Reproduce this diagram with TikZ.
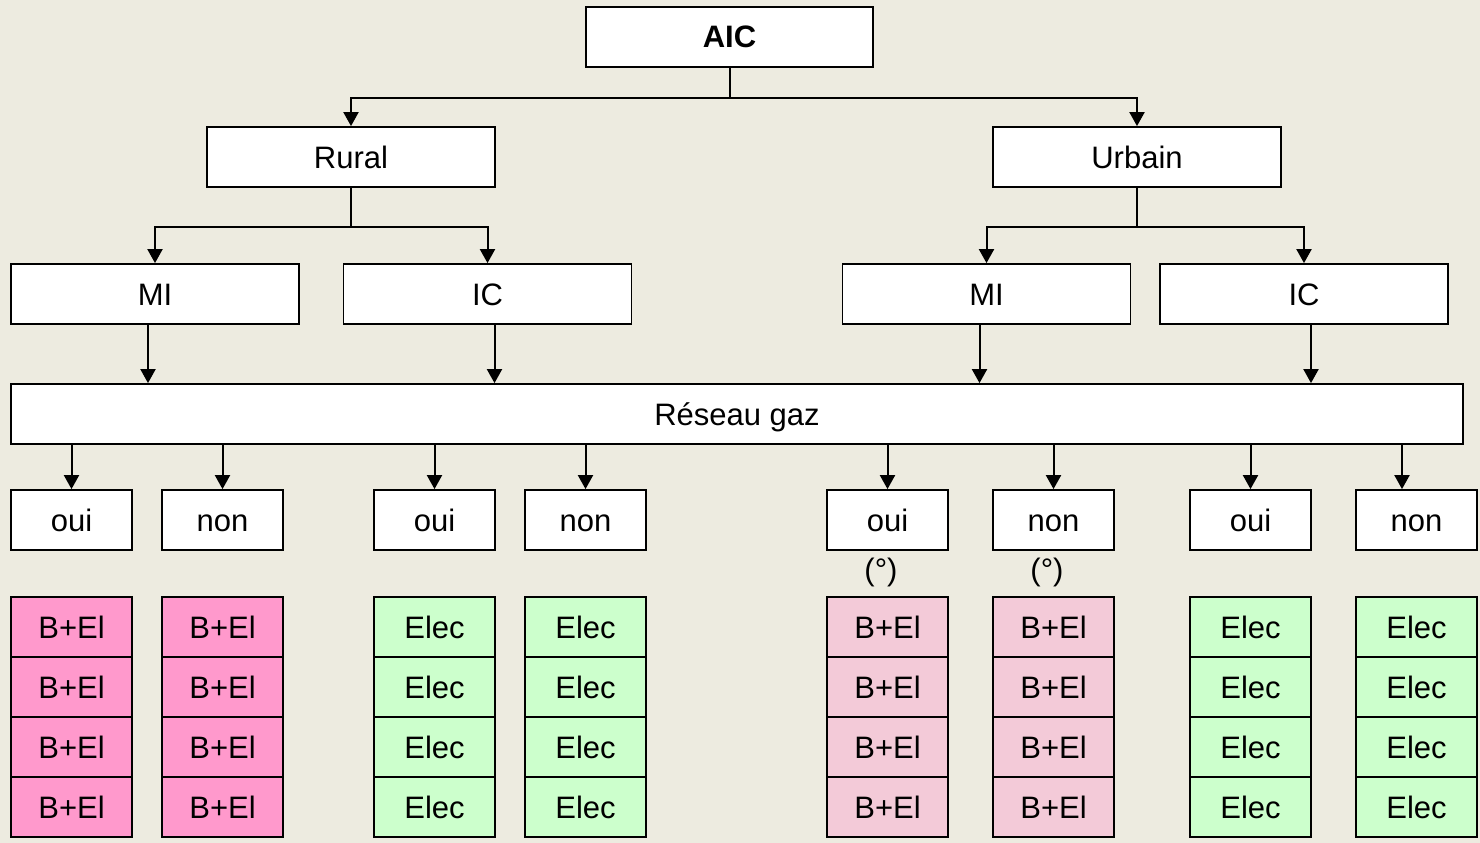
\documentclass[tikz,border=0pt]{standalone}
\usepackage{fontspec}
\setmainfont{Liberation Sans}
\usetikzlibrary{arrows.meta}
\definecolor{bgc}{RGB}{237,235,224}
\definecolor{pinkA}{RGB}{255,153,204}
\definecolor{pinkB}{RGB}{243,202,216}
\definecolor{greenA}{RGB}{204,255,204}
\tikzset{
  box/.style={draw=black, line width=1.8pt, fill=white, inner sep=0pt, minimum height=60pt, text height=22pt, text depth=0pt, font=\fontsize{31}{37}\selectfont},
  wbox/.style={box, minimum width=288pt},
  sbox/.style={box, minimum width=121pt},
  cellA/.style={sbox, fill=pinkA},
  cellB/.style={sbox, fill=pinkB},
  cellG/.style={sbox, fill=greenA},
  arr/.style={line width=2pt, -{Triangle[width=15pt,length=14pt]}},
  ln/.style={line width=2pt},
  lbl/.style={inner sep=0pt, text height=22pt, text depth=0pt, font=\fontsize{31}{37}\selectfont},
}
\begin{document}
\begin{tikzpicture}[x=1pt,y=-1pt]
\fill[bgc] (0,0) rectangle (1480,843);
\useasboundingbox (0,0) rectangle (1480,843);
% top
\node[wbox, minimum width=287pt, font=\fontsize{31}{37}\selectfont\bfseries] (aic) at (729.5,37) {AIC};
\node[wbox] (rural) at (351,157) {Rural};
\node[wbox] (urbain) at (1137,157) {Urbain};
\node[wbox] (rmi) at (155,294) {MI};
\node[wbox] (ric) at (487.5,294) {IC};
\node[wbox] (umi) at (986.5,294) {MI};
\node[wbox] (uic) at (1304,294) {IC};
\node[box, minimum width=1452pt] (reseau) at (737,414) {Réseau gaz};
% connectors top
\draw[ln] (aic.south) -- ++(0,30) coordinate (j1);
\draw[arr] (j1) -| (rural.north);
\draw[arr] (j1) -| (urbain.north);
\draw[ln] (rural.south) -- ++(0,39) coordinate (j2);
\draw[arr] (j2) -| (rmi.north);
\draw[arr] (j2) -| (ric.north);
\draw[ln] (urbain.south) -- ++(0,39) coordinate (j3);
\draw[arr] (j3) -| (umi.north);
\draw[arr] (j3) -| (uic.north);
\draw[arr] ([xshift=-7pt]rmi.south) -- ([xshift=-7pt]rmi.south |- reseau.north);
\draw[arr] ([xshift=7pt]ric.south) -- ([xshift=7pt]ric.south |- reseau.north);
\draw[arr] ([xshift=-7pt]umi.south) -- ([xshift=-7pt]umi.south |- reseau.north);
\draw[arr] ([xshift=7pt]uic.south) -- ([xshift=7pt]uic.south |- reseau.north);
% oui / non
\foreach \n/\x/\t/\dx in {a/71.5/oui/0, b/222.5/non/0, c/434.5/oui/0, d/585.5/non/0, e/887.5/oui/0, f/1053.5/non/0, g/1250.5/oui/0, h/1416.5/non/-14.5}{
  \node[sbox] (o\n) at (\x,520) {\t};
  \draw[arr] ([xshift=\dx pt]o\n.north |- reseau.south) -- ([xshift=\dx pt]o\n.north);
}
\node[lbl] (dega) at (881,569) {(°)};
\node[lbl] (degb) at (1047,569) {(°)};
% stacks
\foreach \n/\x/\s/\t in {a/71.5/cellA/B+El, b/222.5/cellA/B+El, c/434.5/cellG/Elec, d/585.5/cellG/Elec, e/887.5/cellB/B+El, f/1053.5/cellB/B+El, g/1250.5/cellG/Elec, h/1416.5/cellG/Elec}{
  \foreach \k/\y in {1/627, 2/687, 3/747, 4/807}{
    \node[\s] (c\n\k) at (\x,\y) {\t};
  }
}
\end{tikzpicture}
\end{document}
